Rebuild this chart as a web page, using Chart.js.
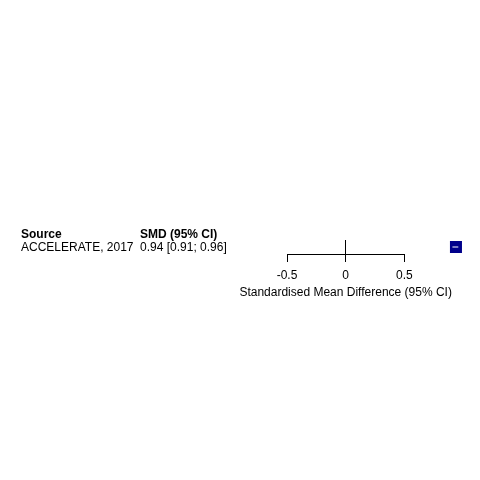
<!DOCTYPE html>
<html><head><meta charset="utf-8">
<script src="https://cdn.jsdelivr.net/npm/chart.js@4"></script>
<style>html,body{margin:0;padding:0;background:#fff}#c{display:block}</style>
</head><body>
<div style="width:480px;height:480px"><canvas id="c" width="480" height="480"></canvas></div>
<script>
const sources = ["ACCELERATE, 2017"];
const smd = [0.94];
const ciLow = [0.91];
const ciHigh = [0.96];
const xTicks = [-0.5, 0, 0.5];
const headers = ["Source", "SMD (95% CI)"];
const axisTitle = "Standardised Mean Difference (95% CI)";

const FONT = "Liberation Sans, Arial, Helvetica, sans-serif";
const rowY = 0.5;

const textPlugin = {
  id: 'forestText',
  afterDraw(chart) {
    const ctx = chart.ctx;
    const y = chart.scales.y;
    const x = chart.scales.x;
    const ca = chart.chartArea;
    ctx.save();
    // axis line across the tick range only
    const x0 = x.getPixelForValue(xTicks[0]);
    const x1 = x.getPixelForValue(xTicks[xTicks.length - 1]);
    ctx.strokeStyle = '#000';
    ctx.lineWidth = 1;
    ctx.beginPath();
    ctx.moveTo(x0, Math.round(ca.bottom) + 0.5);
    ctx.lineTo(x1, Math.round(ca.bottom) + 0.5);
    ctx.stroke();
    // axis title centred under the tick range
    ctx.fillStyle = '#000';
    ctx.font = '12px ' + FONT;
    ctx.textAlign = 'center';
    ctx.textBaseline = 'middle';
    ctx.fillText(axisTitle, (x0 + x1) / 2, ca.bottom + 39);
    // table text
    ctx.textAlign = 'left';
    const hy = y.getPixelForValue(rowY) - 12;
    ctx.font = 'bold 12px ' + FONT;
    ctx.fillText(headers[0], 21, hy);
    ctx.fillText(headers[1], 140, hy);
    ctx.font = '12px ' + FONT;
    sources.forEach((s, i) => {
      const py = y.getPixelForValue(rowY - i) + 1;
      ctx.fillText(s, 21, py);
      ctx.fillText(smd[i].toFixed(2) + ' [' + ciLow[i].toFixed(2) + '; ' + ciHigh[i].toFixed(2) + ']', 140, py);
    });
    ctx.restore();
  }
};

new Chart(document.getElementById('c'), {
  type: 'scatter',
  data: {
    datasets: [
      {
        data: smd.map((v) => ({x: v, y: rowY})),
        pointStyle: 'rect',
        pointRadius: 8.5,
        backgroundColor: '#00008B',
        borderColor: '#00008B',
        borderWidth: 0,
        clip: false,
        order: 2
      },
      {
        type: 'line',
        data: [{x: ciLow[0], y: rowY}, {x: ciHigh[0], y: rowY}],
        borderColor: '#ffffff',
        borderWidth: 1,
        pointRadius: 0,
        clip: false,
        order: 1
      }
    ]
  },
  options: {
    responsive: false,
    animation: false,
    layout: {padding: {left: 287, right: 17, top: 240, bottom: 196}},
    plugins: {legend: {display: false}, tooltip: {enabled: false}},
    scales: {
      y: {display: false, min: 0, max: 1},
      x: {
        type: 'linear',
        min: -0.5, max: 1.0,
        afterBuildTicks: (s) => { s.ticks = xTicks.map(v => ({value: v})); },
        afterFit: (s) => { s.height = 30; },
        border: {display: false},
        grid: {
          drawOnChartArea: true,
          color: (c) => (c.tick && c.tick.value === 0) ? '#000' : 'rgba(0,0,0,0)',
          tickColor: '#000',
          tickLength: 8,
          lineWidth: 1
        },
        ticks: {color: '#000', font: {family: FONT, size: 12}, padding: 6, maxRotation: 0,
          callback: (v) => String(v)},
        title: {display: false}
      }
    }
  },
  plugins: [textPlugin]
});
</script>
</body></html>
